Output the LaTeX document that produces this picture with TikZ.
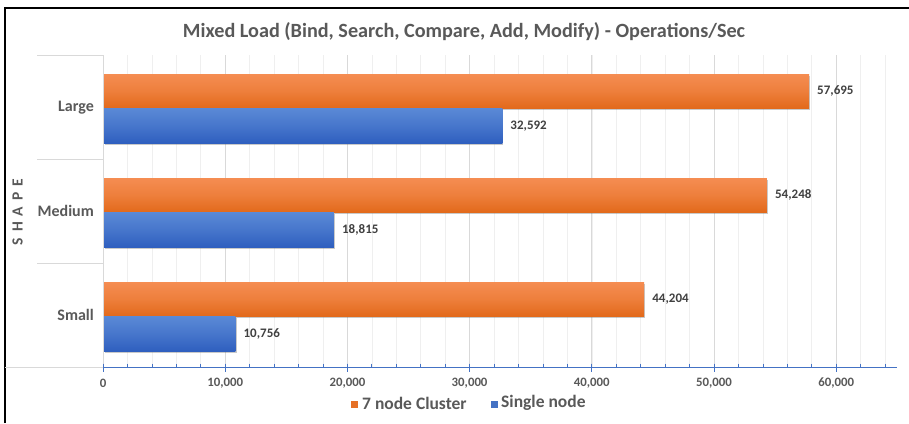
\documentclass[tikz,border=0pt]{standalone}
\usepackage{fontspec}
\setmainfont{Carlito}
\usetikzlibrary{shadows}
\definecolor{orTop}{HTML}{F58D52}
\definecolor{orBot}{HTML}{E2691A}
\definecolor{blTop}{HTML}{5A89D6}
\definecolor{blBot}{HTML}{2F5FBF}
\definecolor{axisblue}{HTML}{4472C4}
\definecolor{txtgray}{HTML}{595959}
\definecolor{lbldark}{HTML}{404040}
\definecolor{gridmaj}{HTML}{D9D9D9}
\definecolor{gridmin}{HTML}{EFEFEF}
\tikzset{
  barbase/.style={inner sep=0pt, outer sep=0pt, anchor=north west, minimum height=34.5pt,
    drop shadow={shadow xshift=1.2pt, shadow yshift=-1.6pt, opacity=0.35, fill=black!60}},
  orbar/.style={barbase, top color=orTop, bottom color=orBot, middle color=orTop!60!orBot},
  blbar/.style={barbase, top color=blTop, bottom color=blBot, middle color=blTop!55!blBot},
  vallbl/.style={anchor=west, inner sep=0pt, text=lbldark, font=\bfseries\fontsize{13}{13}\selectfont},
  ticklbl/.style={inner sep=0pt, text=txtgray, font=\bfseries\fontsize{12.8}{12.8}\selectfont},
  catlbl/.style={anchor=east, inner sep=0pt, text=txtgray, font=\bfseries\fontsize{16}{16}\selectfont},
  leglbl/.style={anchor=west, inner sep=0pt, text=txtgray, font=\bfseries\fontsize{17.5}{17.5}\selectfont},
  legsq/.style={inner sep=0pt, minimum size=7pt},
}
\begin{document}
\begin{tikzpicture}[x=1pt,y=-1pt]
\useasboundingbox (0,0) rectangle (909,423);
\fill[white] (0,0) rectangle (909,423);
% frame
\draw[black, line width=1.4pt] (5,423) -- (5,8) -- (909,8);
% title
\node[text=txtgray, font=\bfseries\fontsize{20.2}{20.2}\selectfont, inner sep=0pt] (title) at (464,32) {Mixed Load (Bind, Search, Compare, Add, Modify) - Operations/Sec};
% grid
\foreach \i in {1,...,32} {\draw[gridmin, line width=0.6pt] ({103+\i*24.44},55) -- ({103+\i*24.44},367);}
\foreach \i in {1,...,6} {\draw[gridmaj, line width=0.8pt] ({103+\i*122.2},55) -- ({103+\i*122.2},367);}
% category axis and separators
\draw[gridmaj, line width=0.8pt] (103,55) -- (103,367);
\foreach \y in {55,159,263} {\draw[gridmaj, line width=0.8pt] (37,\y) -- (103,\y);}
\draw[gridmaj, line width=0.8pt] (5,367) -- (103,367);
% bars
\node[orbar, minimum width={57.695*12.22pt}] (lo) at (104,74) {};
\node[blbar, minimum width={32.592*12.22pt}] (lb) at (104,108.5) {};
\node[orbar, minimum width={54.248*12.22pt}] (mo) at (104,178) {};
\node[blbar, minimum width={18.815*12.22pt}] (mb) at (104,212.5) {};
\node[orbar, minimum width={44.204*12.22pt}] (so) at (104,282) {};
\node[blbar, minimum width={10.756*12.22pt}] (sb) at (104,316.5) {};
% value labels
\node[vallbl] (llo) at ([xshift=8pt]lo.east) {57,695};
\node[vallbl] (llb) at ([xshift=8pt]lb.east) {32,592};
\node[vallbl] (lmo) at ([xshift=8pt]mo.east) {54,248};
\node[vallbl] (lmb) at ([xshift=8pt]mb.east) {18,815};
\node[vallbl] (lso) at ([xshift=8pt]so.east) {44,204};
\node[vallbl] (lsb) at ([xshift=8pt]sb.east) {10,756};
% category labels
\node[catlbl] (cl) at (94,108) {Large};
\node[catlbl] (cm) at (94,211) {Medium};
\node[catlbl] (cs) at (94,315) {Small};
\node[rotate=90, inner sep=0pt, text=txtgray, font=\bfseries\fontsize{15.5}{15.5}\selectfont] (ytitle) at (17.5,212) {S\hspace{6pt}H\hspace{6pt}A\hspace{6pt}P\hspace{6pt}E};
% value axis
\draw[axisblue, line width=0.9pt] (103,367) -- (897,367);
\foreach \i in {0,...,32} {\draw[axisblue, line width=0.7pt] ({103+\i*24.44},363.5) -- ({103+\i*24.44},367);}
\foreach \i in {0,...,6} {\draw[axisblue, line width=0.7pt] ({103+\i*122.2},363.5) -- ({103+\i*122.2},371.5);}
\node[ticklbl] (t0) at (103,383) {0};
\node[ticklbl] (t1) at (225.2,383) {10,000};
\node[ticklbl] (t2) at (347.4,383) {20,000};
\node[ticklbl] (t3) at (469.6,383) {30,000};
\node[ticklbl] (t4) at (591.8,383) {40,000};
\node[ticklbl] (t5) at (714.0,383) {50,000};
\node[ticklbl] (t6) at (836.2,383) {60,000};
% legend
\node[legsq, fill=orBot!80!orTop] (lgo) at (354,404) {};
\node[leglbl] (lgot) at (362,403) {7 node Cluster};
\node[legsq, fill=axisblue] (lgb) at (494,404) {};
\node[leglbl] (lgbt) at (501,403) {Single node};
\end{tikzpicture}
\end{document}
